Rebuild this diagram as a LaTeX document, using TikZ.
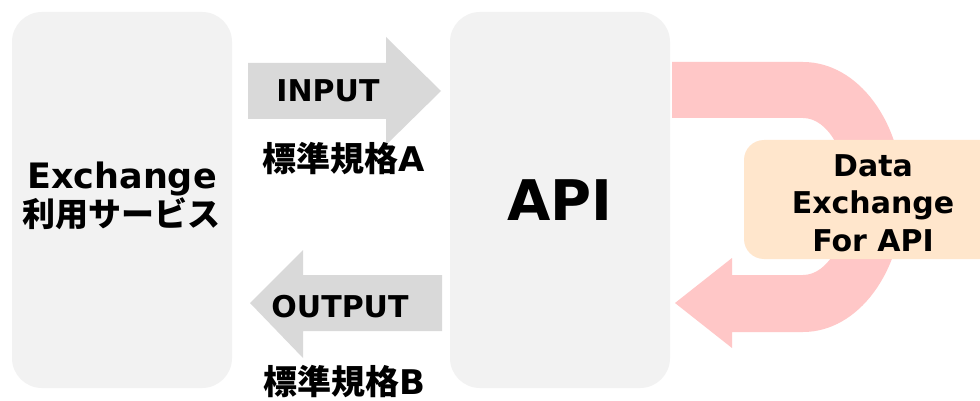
\documentclass[tikz,border=0pt]{standalone}
\usepackage{fontspec}
\setmainfont{DejaVu Sans}
\newfontfamily\jp{Noto Sans CJK JP}
\definecolor{boxgray}{HTML}{F2F2F2}
\definecolor{arrowgray}{HTML}{D9D9D9}
\definecolor{loopred}{HTML}{FFC7C7}
\definecolor{tagorange}{HTML}{FFE6CC}
\begin{document}
\begin{tikzpicture}[x=1pt,y=-1pt,
  panel/.style={fill=boxgray, draw=none, rounded corners=30pt,
    minimum width=220pt, minimum height=376pt, inner sep=0pt},
  lbl/.style={font=\bfseries, text=black, align=center, inner sep=0pt},
  flow/.style={fill=arrowgray, draw=none}]
\clip (0,0) rectangle (980,401);
\fill[white] (0,0) rectangle (980,401);

% side panels
\node[panel] (svc) at (122,200) {};
\node[panel] (api) at (560,200) {};

% input and output arrows
\draw[flow] (248,63) -- (386,63) -- (386,37) -- (441,91) -- (386,145)
  -- (386,119) -- (248,119) -- cycle;
\draw[flow] (442,275) -- (303,275) -- (303,250) -- (250,303) -- (303,358)
  -- (303,331) -- (442,331) -- cycle;

% U-turn loop on the API
\fill[loopred] (672,62) -- (803,62)
  arc[start angle=90, end angle=-90, x radius=100pt, y radius=135pt]
  -- (732,332) -- (732,348) -- (675,303) -- (732,258) -- (732,275) -- (803,275)
  arc[start angle=-90, end angle=90, x radius=45pt, y radius=78.5pt]
  -- (672,118) -- cycle;
\fill[tagorange, rounded corners=20pt] (744,140) rectangle (1010,259);

% texts
\node[lbl, font=\bfseries\fontsize{35}{40}\selectfont] (svctext) at (122,196)
  {Exchange\\[-2pt]{\jp\bfseries\fontsize{33}{40}\selectfont 利用サービス}};
\node[lbl, font=\bfseries\fontsize{56}{60}\selectfont] (apitext) at (api.center) {API};
\node[lbl, font=\bfseries\fontsize{30}{32}\selectfont] (intext) at (328,91) {INPUT};
\node[lbl, font=\bfseries\fontsize{34}{36}\selectfont] (instd) at (344,159)
  {{\jp\bfseries 標準規格}A};
\node[lbl, font=\bfseries\fontsize{30}{32}\selectfont] (outtext) at (340,307) {OUTPUT};
\node[lbl, font=\bfseries\fontsize{34}{36}\selectfont] (outstd) at (344,382)
  {{\jp\bfseries 標準規格}B};
\node[lbl, font=\bfseries\fontsize{30}{37.5}\selectfont] (tagtext) at (873,203)
  {Data\\Exchange\\For API};
\end{tikzpicture}
\end{document}
